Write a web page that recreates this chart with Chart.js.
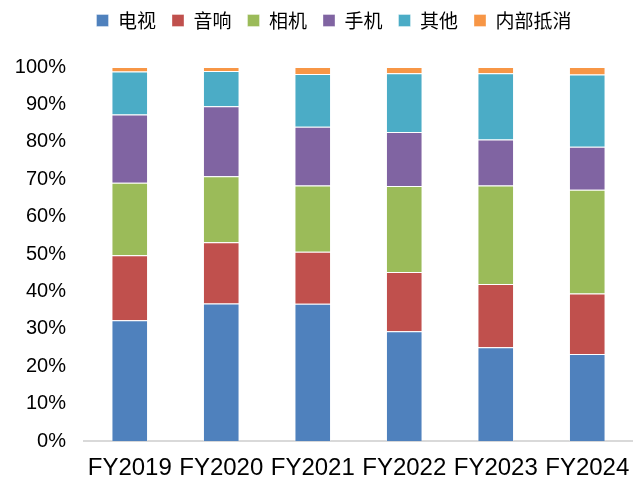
<!DOCTYPE html>
<html>
<head>
<meta charset="utf-8">
<script src="https://cdn.jsdelivr.net/npm/chart.js@4"></script>
<style>
html,body{margin:0;padding:0;background:#fff}
#wrap{width:633px;height:479px;position:relative}
</style>
</head>
<body>
<div id="wrap"><canvas id="chart"></canvas></div>
<script>
// fiscal years
const years = ["FY2019","FY2020","FY2021","FY2022","FY2023","FY2024"]

// share of revenue by segment, %
const tv = [32.3,36.8,36.7,29.4,25.1,23.3]
const audio = [17.4,16.4,13.9,15.8,16.9,16.2]
const camera = [19.4,17.6,17.7,23.0,26.3,27.7]
const phone = [18.2,18.7,15.7,14.4,12.3,11.5]
const other = [11.5,9.4,14.1,15.7,17.7,19.3]
const elim = [1.2,1.1,1.9,1.7,1.7,2.0]

const names = ["电视","音响","相机","手机","其他","内部抵消"]
const colors = ["#4F81BD","#C0504D","#9BBB59","#8064A2","#4BACC6","#F79646"]
const series = [tv,audio,camera,phone,other,elim]

let datasets = series.map((d,i)=>({
label:names[i],
data:d,
backgroundColor:colors[i],
borderColor:"rgba(255,255,255,0.35)",
borderWidth:1,
categoryPercentage:1,
barPercentage:0.4
}))

// push the plot down below the legend, and nudge the legend right a bit
const legendGap = {
id:"legendGap",
beforeInit(chart){
let lg = chart.legend
let fit = lg.fit
lg.fit = function(){
fit.bind(lg)()
this.height += 29
}
let draw = lg.draw
lg.draw = function(){
let ctx = chart.ctx
ctx.save()
ctx.translate(16,2)
draw.bind(lg)()
ctx.restore()
}
}
}

new Chart(document.getElementById("chart"),{
type:"bar",
data:{labels:years,datasets:datasets},
plugins:[legendGap],
options:{
responsive:true,
maintainAspectRatio:false,
animation:false,
layout:{padding:{left:0,right:-3,top:-7,bottom:-17}},
plugins:{
legend:{
position:"top",
labels:{
boxWidth:12,
boxHeight:12,
padding:16,
color:"#000",
font:{family:"'Noto Sans CJK SC'",size:19}
}
},
tooltip:{enabled:false}
},
scales:{
x:{
stacked:true,
afterFit:s=>{s.paddingRight=-3;s.paddingLeft=0},
grid:{display:false,drawTicks:false},
border:{display:true,color:"#d9d9d9",width:2},
ticks:{color:"#000",padding:13,font:{family:"'Liberation Sans'",size:24}}
},
y:{
stacked:true,
min:0,
max:100,
afterFit:s=>{s.width=84},
grid:{display:false,drawTicks:false},
border:{display:false},
ticks:{
stepSize:10,
color:"#000",
padding:18,
font:{family:"'Liberation Sans'",size:20},
callback:v=>v+"%"
}
}
}
}
})
</script>
</body>
</html>
